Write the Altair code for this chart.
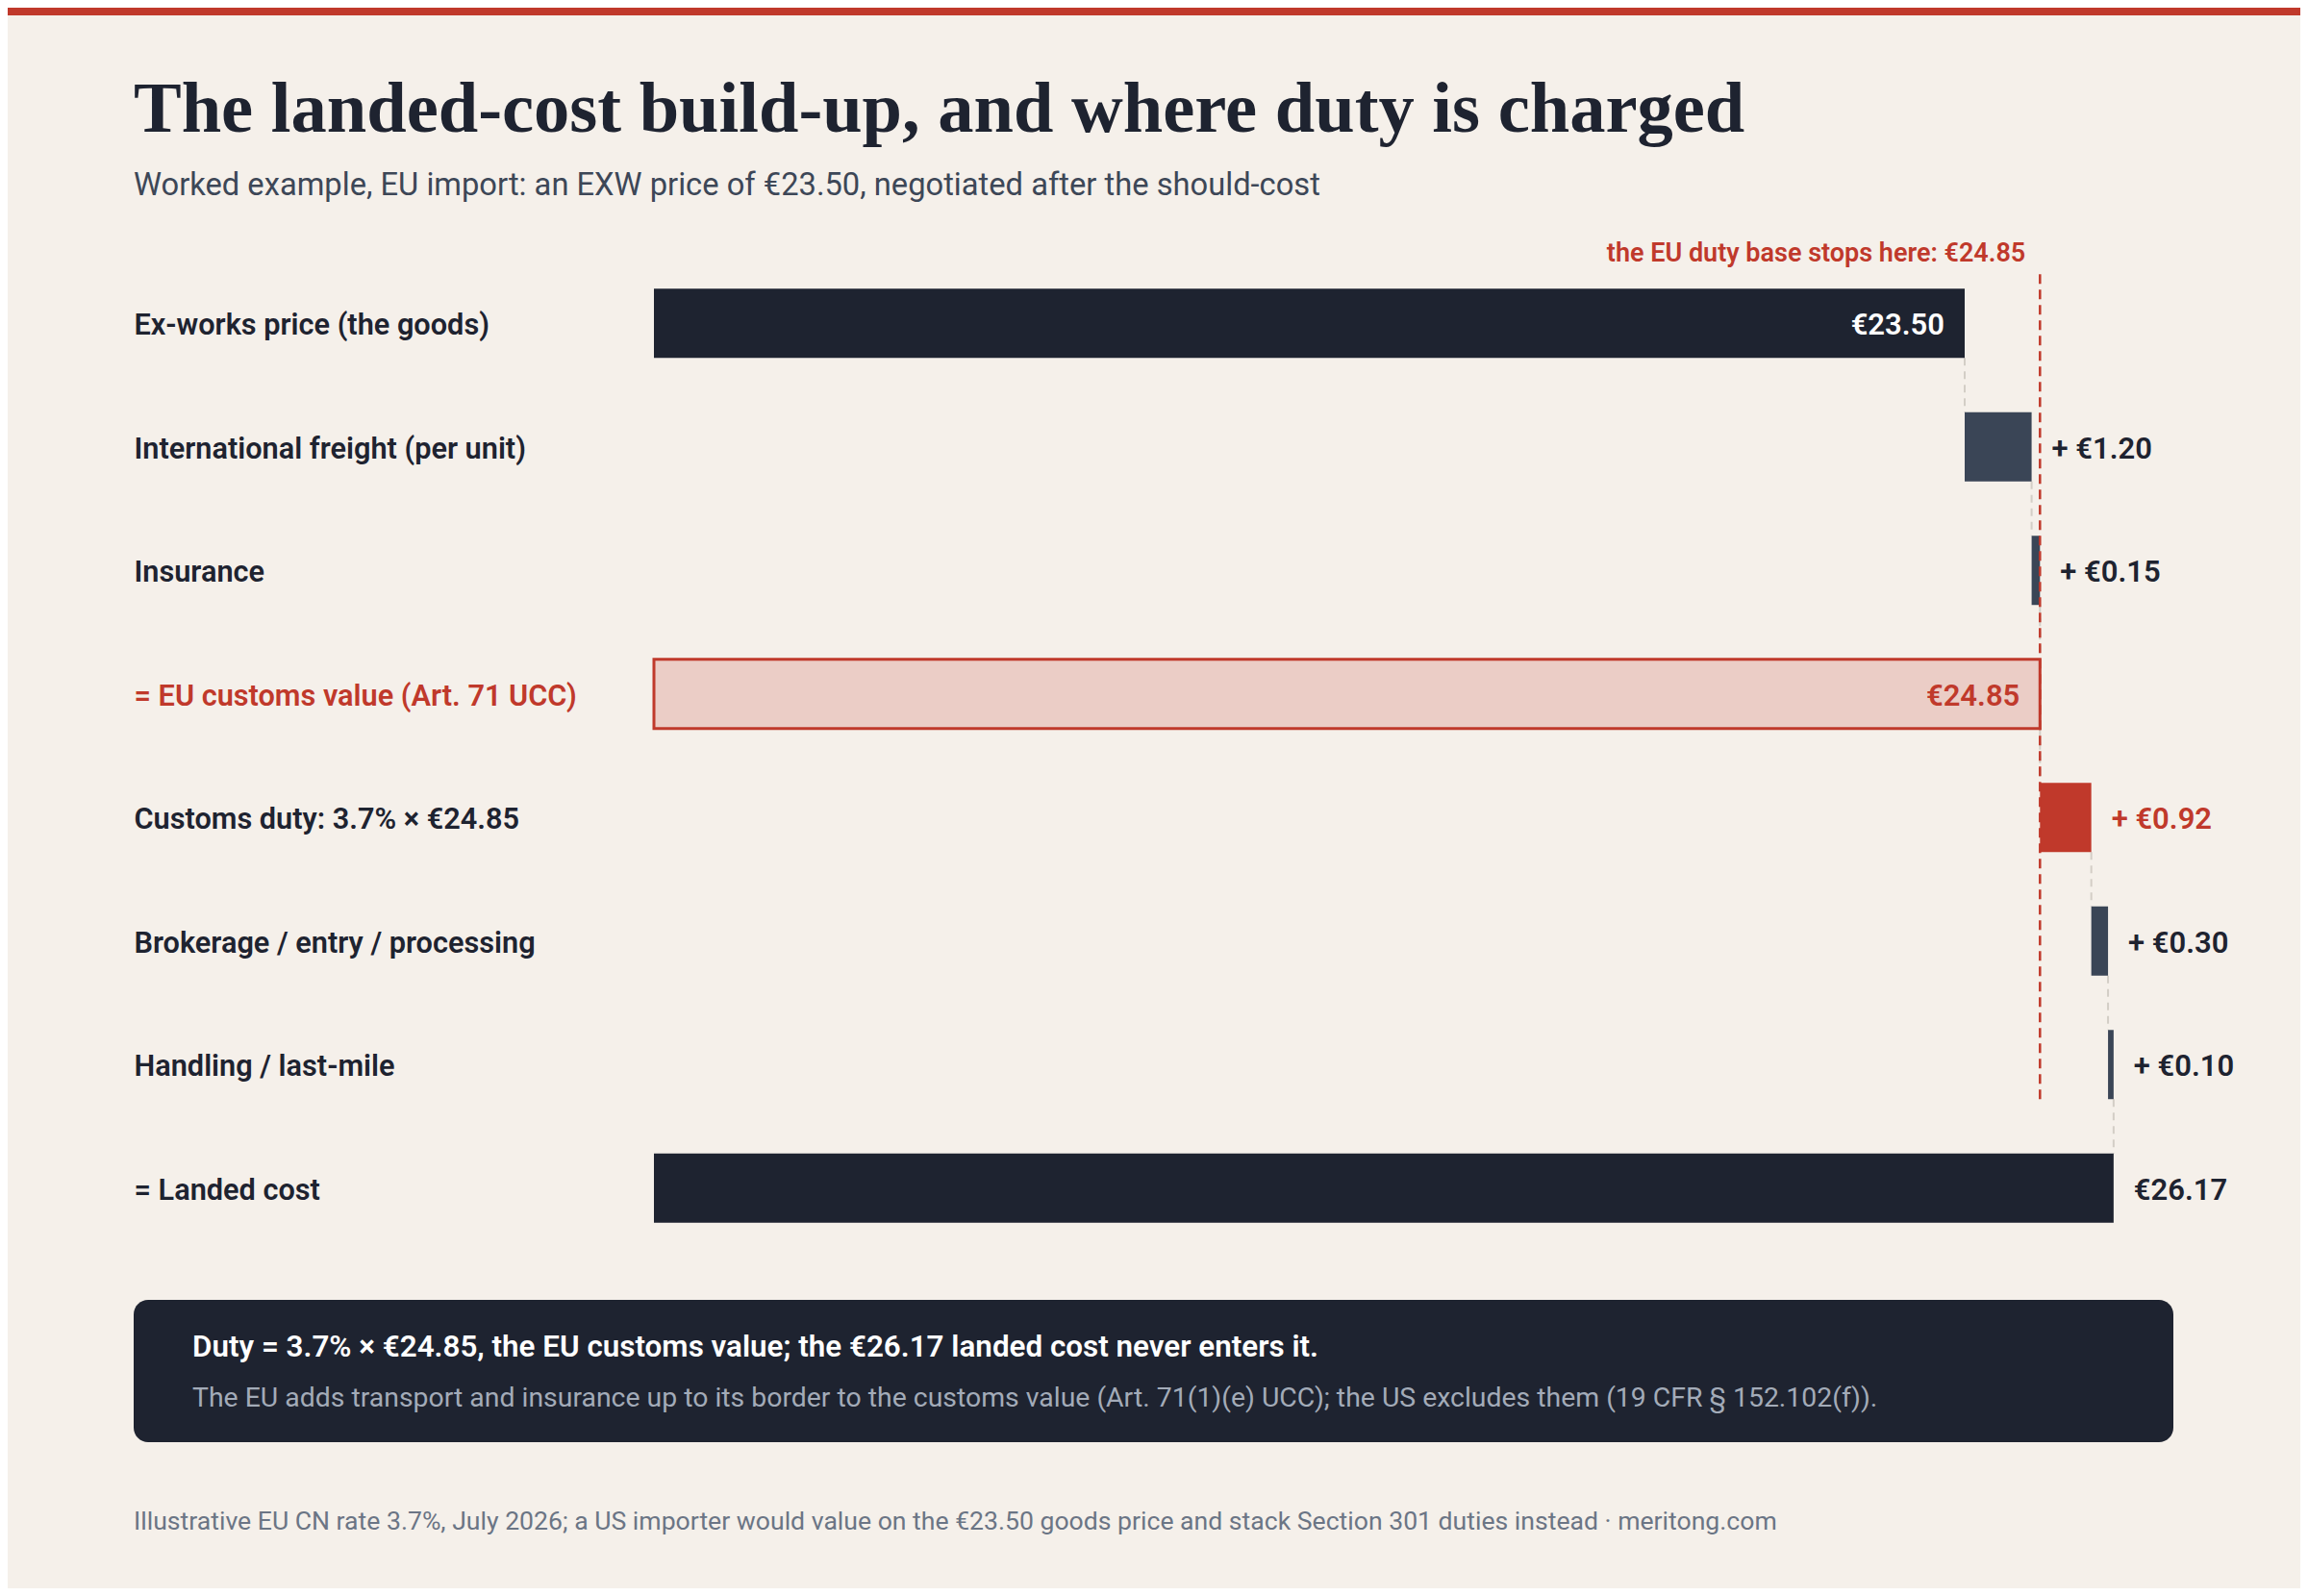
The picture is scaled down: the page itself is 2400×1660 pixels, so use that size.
import altair as alt
import pandas as pd

rows = [
    "Ex-works price (the goods)",
    "International freight (per unit)",
    "Insurance",
    "= EU customs value (Art. 71 UCC)",
    "Customs duty: 3.7% × €24.85",
    "Brokerage / entry / processing",
    "Handling / last-mile",
    "= Landed cost",
]
amounts = [23.50, 1.20, 0.15, 24.85, 0.92, 0.30, 0.10, 26.17]
kinds = ["goods", "add", "add", "base", "duty", "add", "add", "total"]
duty_base = 24.85

title_text = "The landed-cost build-up, and where duty is charged"
subtitle_text = "Worked example, EU import: an EXW price of €23.50, negotiated after the should-cost"
annotation_text = "the EU duty base stops here: €24.85"
note_head = "Duty = 3.7% × €24.85, the EU customs value; the €26.17 landed cost never enters it."
note_body = ("The EU adds transport and insurance up to its border to the customs value "
             "(Art. 71(1)(e) UCC); the US excludes them (19 CFR § 152.102(f)).")
footer_text = ("Illustrative EU CN rate 3.7%, July 2026; a US importer would value on the €23.50 "
               "goods price and stack Section 301 duties instead · meritong.com")

INK = "#1e2330"
SLATE = "#3a4556"
RED = "#c0392b"
PINK = "#ebcdc6"
BG = "#f5f0ea"
SANS = "Roboto"
SERIF = "Liberation Serif"

# waterfall table
recs = []
running = 0.0
for row, amt, kind in zip(rows, amounts, kinds):
    if kind in ("goods", "base", "total"):
        start, end, label = 0.0, amt, f"€{amt:.2f}"
    else:
        start, end, label = running, running + amt, f"+ €{amt:.2f}"
    running = end
    recs.append({"row": row, "start": start, "end": end, "kind": kind, "label": label,
                 "side": "in" if kind in ("goods", "base") else "out"})
bars = pd.DataFrame(recs)

links = pd.DataFrame({
    "x": [r["end"] for r in recs[:-1]],
    "top": rows[:-1],
    "bottom": rows[1:],
})

W, H = 2384, 1644
x_scale = alt.Scale(domain=[0, 29], range=[672, 672 + 29 * 58], nice=False, zero=False)
y_scale = alt.Scale(domain=rows, range=[264, 1292], paddingInner=0.44, paddingOuter=0.22)

kind_dom = ["goods", "add", "base", "duty", "total"]
fill_scale = alt.Scale(domain=kind_dom, range=[INK, SLATE, PINK, RED, INK])
text_scale = alt.Scale(domain=kind_dom, range=["#ffffff", INK, RED, RED, INK])

y_axis = alt.Axis(
    title=None, domain=False, ticks=False, grid=False,
    labelAlign="left", labelPadding=0, offset=-131, labelLimit=800, labelOffset=3,
    labelFont=SANS, labelFontSize=30.7, labelFontWeight=600,
    labelColor={"condition": {"test": f"datum.value === '{rows[3]}'", "value": RED}, "value": INK},
)


def y_enc(field):
    return alt.Y(field, type="nominal", scale=y_scale, axis=y_axis, sort=rows)


base = alt.Chart(bars)

connectors = alt.Chart(links).mark_rule(
    color="#d3cec6", strokeWidth=2, strokeDash=[8, 6], yOffset=36, y2Offset=-36
).encode(
    x=alt.X("x:Q", scale=x_scale, axis=None),
    y=y_enc("top"),
    y2="bottom:N",
)

bar_layer = base.mark_bar(strokeWidth=3).encode(
    x=alt.X("start:Q", scale=x_scale, axis=None),
    x2="end:Q",
    y=y_enc("row"),
    fill=alt.Fill("kind:N", scale=fill_scale, legend=None),
    stroke=alt.condition(alt.datum.kind == "base", alt.value(RED), alt.value(None)),
)

inside_labels = base.transform_filter("datum.side == 'in'").mark_text(
    align="right", baseline="middle", dx=-21, dy=3, font=SANS, fontSize=31, fontWeight=600
).encode(
    x=alt.X("end:Q", scale=x_scale, axis=None),
    y=y_enc("row"),
    text="label:N",
    color=alt.Color("kind:N", scale=text_scale, legend=None),
)

outside_labels = base.transform_filter("datum.side == 'out'").mark_text(
    align="left", baseline="middle", dx=21, dy=3, font=SANS, fontSize=31, fontWeight=600
).encode(
    x=alt.X("end:Q", scale=x_scale, axis=None),
    y=y_enc("row"),
    text="label:N",
    color=alt.Color("kind:N", scale=text_scale, legend=None),
)

marker = pd.DataFrame({"x": [duty_base], "top": [rows[0]], "bottom": [rows[6]], "t": [annotation_text]})
base_rule = alt.Chart(marker).mark_rule(
    color=RED, strokeWidth=2.5, strokeDash=[10, 6], yOffset=-51, y2Offset=36
).encode(
    x=alt.X("x:Q", scale=x_scale, axis=None),
    y=y_enc("top"),
    y2="bottom:N",
)
base_note = alt.Chart(marker).mark_text(
    align="right", baseline="alphabetic", dx=-15, dy=-64, font=SANS, fontSize=27,
    fontWeight=600, color=RED
).encode(
    x=alt.X("x:Q", scale=x_scale, axis=None),
    y=y_enc("top"),
    text="t:N",
)


def free_text(text, x, y, size, color, weight="normal", font=SANS):
    return alt.Chart(pd.DataFrame({"t": [text]})).mark_text(
        align="left", baseline="alphabetic", font=font, fontSize=size,
        fontWeight=weight, color=color
    ).encode(x=alt.value(x), y=alt.value(y), text="t:N")


one = pd.DataFrame({"k": [0]})
top_band = alt.Chart(one).mark_rect(color=RED).encode(
    x=alt.value(0), x2=alt.value(W), y=alt.value(0), y2=alt.value(8)
)
callout = alt.Chart(one).mark_rect(color=INK, cornerRadius=15).encode(
    x=alt.value(131), x2=alt.value(2252), y=alt.value(1344), y2=alt.value(1492)
)

chart = alt.layer(
    top_band,
    free_text(title_text, 131, 129, 74.5, INK, "bold", SERIF),
    free_text(subtitle_text, 131, 195, 32.7, "#3d4757"),
    connectors,
    bar_layer,
    base_rule,
    base_note,
    inside_labels,
    outside_labels,
    callout,
    free_text(note_head, 192, 1403, 31.4, "#ffffff", 600),
    free_text(note_body, 192, 1455, 28.4, "#a3abb8"),
    free_text(footer_text, 131, 1583, 26.6, "#6b7585"),
).resolve_scale(
    color="independent"
).properties(
    width=W, height=H,
    autosize=alt.AutoSizeParams(type="none"),
    padding=0,
    background=BG,
).configure_view(stroke=None)

chart.save("out.html", embed_options={"renderer": "svg", "actions": False})
